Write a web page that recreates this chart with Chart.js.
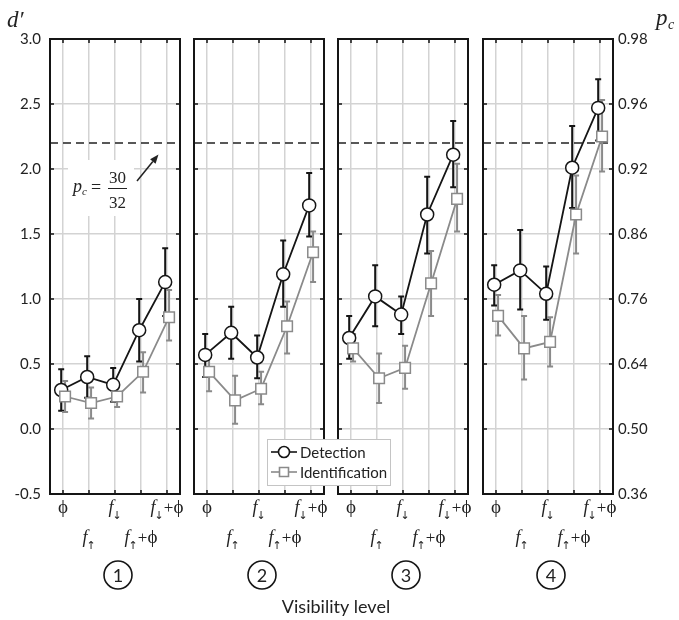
<!DOCTYPE html>
<html>
<head>
<meta charset="utf-8">
<script src="https://cdn.jsdelivr.net/npm/chart.js@4.4.1/dist/chart.umd.min.js"></script>
<style>
  body { margin: 0; background: #fff; }
  #wrap { position: relative; width: 679px; height: 620px; }
  #wrap canvas { position: absolute; left: 0; top: 0; }
</style>
</head>
<body>
<div id="wrap">
  <canvas id="p0" width="679" height="620"></canvas>
  <canvas id="p1" width="679" height="620"></canvas>
  <canvas id="p2" width="679" height="620"></canvas>
  <canvas id="p3" width="679" height="620"></canvas>
</div>
<script>
// ── data ───────────────────────────────────────────────
const positions   = [1, 2, 3, 4, 5];
const xLabels     = ['ϕ', 'f↑', 'f↓', 'f↑+ϕ', 'f↓+ϕ'];
const panelLabels = ['1', '2', '3', '4'];
const dTicks      = [-0.5, 0.0, 0.5, 1.0, 1.5, 2.0, 2.5, 3.0];
const pcTicks     = ['0.36', '0.50', '0.64', '0.76', '0.86', '0.92', '0.96', '0.98'];
const criterion   = 2.2;   // d' for pc = 30/32

// Detection d' (one row per panel)
const detMean = [
  [0.30, 0.40, 0.34, 0.76, 1.13],
  [0.57, 0.74, 0.55, 1.19, 1.72],
  [0.70, 1.02, 0.88, 1.65, 2.11],
  [1.11, 1.22, 1.04, 2.01, 2.47]
];
const detHigh = [
  [0.46, 0.56, 0.47, 1.00, 1.39],
  [0.73, 0.94, 0.72, 1.45, 1.97],
  [0.87, 1.26, 1.02, 1.94, 2.37],
  [1.26, 1.53, 1.25, 2.33, 2.69]
];
const detLow = [
  [0.14, 0.24, 0.21, 0.52, 0.87],
  [0.40, 0.54, 0.39, 0.94, 1.48],
  [0.54, 0.79, 0.73, 1.35, 1.86],
  [0.95, 0.92, 0.84, 1.70, 2.22]
];

// Identification d'
const idMean = [
  [0.25, 0.20, 0.25, 0.44, 0.86],
  [0.44, 0.22, 0.31, 0.79, 1.36],
  [0.62, 0.39, 0.47, 1.12, 1.77],
  [0.87, 0.62, 0.67, 1.65, 2.25]
];
const idHigh = [
  [0.37, 0.32, 0.33, 0.59, 1.07],
  [0.57, 0.41, 0.44, 0.98, 1.52],
  [0.73, 0.58, 0.64, 1.37, 2.04],
  [1.03, 0.87, 0.86, 1.95, 2.53]
];
const idLow = [
  [0.13, 0.08, 0.17, 0.28, 0.68],
  [0.29, 0.04, 0.19, 0.58, 1.13],
  [0.52, 0.20, 0.31, 0.87, 1.52],
  [0.72, 0.38, 0.48, 1.35, 1.98]
];

// ── layout / style ─────────────────────────────────────
const W = 679, H = 620;
const PANEL_LEFT = [50, 194, 338, 483];
const PANEL_W = 130;
const TOP = 39, BOTTOM = 494;
const DET_DX = -0.07, ID_DX = 0.08;

const BLACK = '#151515';
const GRAY  = '#8a8a8a';
const GRID  = '#d3d3d3';
const SANS  = 'Lato, "Open Sans", sans-serif';
const SERIF = '"Liberation Serif", "DejaVu Serif", serif';

function drawVisLabel(ctx, label, cx, baseY) {
  const parts = [];
  for (const ch of label) {
    if (ch === 'f')                    parts.push({ t: ch, font: 'italic 18px ' + SERIF, dy: 0, dx: 0 });
    else if (ch === '↑' || ch === '↓') parts.push({ t: ch, font: '11px "DejaVu Sans"', dy: 6, dx: -1 });
    else if (ch === 'ϕ')               parts.push({ t: ch, font: '19px ' + SERIF, dy: 0, dx: 0 });
    else                               parts.push({ t: ch, font: '17px ' + SERIF, dy: 0, dx: 0 });
  }
  let total = 0;
  parts.forEach(p => { ctx.font = p.font; p.w = ctx.measureText(p.t).width; total += p.w + p.dx; });
  let x = cx - total / 2;
  ctx.textAlign = 'left';
  ctx.textBaseline = 'alphabetic';
  parts.forEach(p => {
    ctx.font = p.font;
    x += p.dx;
    ctx.fillText(p.t, x, baseY + p.dy);
    x += p.w;
  });
}

function drawArrow(ctx, x1, y1, x2, y2) {
  const ang = Math.atan2(y2 - y1, x2 - x1);
  const hl = 9, hw = 3.5;
  ctx.beginPath();
  ctx.moveTo(x1, y1);
  ctx.lineTo(x2 - hl * Math.cos(ang), y2 - hl * Math.sin(ang));
  ctx.stroke();
  ctx.beginPath();
  ctx.moveTo(x2, y2);
  ctx.lineTo(x2 - hl * Math.cos(ang) + hw * Math.sin(ang), y2 - hl * Math.sin(ang) - hw * Math.cos(ang));
  ctx.lineTo(x2 - hl * Math.cos(ang) - hw * Math.sin(ang), y2 - hl * Math.sin(ang) + hw * Math.cos(ang));
  ctx.closePath();
  ctx.fill();
}

function drawAnnotation(ctx) {
  // white box behind pc = 30/32
  ctx.fillStyle = '#fff';
  ctx.fillRect(68, 160, 66, 56);
  ctx.fillStyle = '#222';
  ctx.textBaseline = 'alphabetic';
  ctx.textAlign = 'left';
  ctx.font = 'italic 18px ' + SERIF;
  ctx.fillText('p', 73, 192);
  ctx.font = 'italic 11px ' + SERIF;
  ctx.fillText('c', 82, 195);
  ctx.font = '18px ' + SERIF;
  ctx.fillText('=', 91, 193);
  ctx.textAlign = 'center';
  ctx.font = '17px ' + SERIF;
  ctx.fillText('30', 117.5, 183);
  ctx.fillText('32', 117.5, 208);
  ctx.strokeStyle = '#222';
  ctx.lineWidth = 1;
  ctx.beginPath(); ctx.moveTo(108, 188.5); ctx.lineTo(127, 188.5); ctx.stroke();
  ctx.lineWidth = 1.5;
  drawArrow(ctx, 137, 181, 158.5, 154.5);
}

function drawLegend(ctx) {
  const x0 = 267, y0 = 439, w = 123, h = 46;
  ctx.fillStyle = '#fff';
  ctx.fillRect(x0, y0, w, h);
  ctx.strokeStyle = '#c4c4c4';
  ctx.lineWidth = 1;
  ctx.strokeRect(x0 + 0.5, y0 + 0.5, w, h);
  const rows = [
    { label: 'Detection', color: BLACK, y: 452, shape: 'circle' },
    { label: 'Identification', color: GRAY, y: 472, shape: 'rect' }
  ];
  rows.forEach(r => {
    ctx.strokeStyle = r.color;
    ctx.lineWidth = 1.6;
    ctx.beginPath(); ctx.moveTo(271, r.y); ctx.lineTo(297, r.y); ctx.stroke();
    ctx.fillStyle = '#fff';
    ctx.beginPath();
    if (r.shape === 'circle') ctx.arc(284, r.y, 5.5, 0, Math.PI * 2);
    else ctx.rect(279.5, r.y - 4.5, 9, 9);
    ctx.fill(); ctx.stroke();
    ctx.fillStyle = '#222';
    ctx.font = '15px ' + SANS;
    ctx.textAlign = 'left';
    ctx.textBaseline = 'middle';
    ctx.fillText(r.label, 300, r.y + 1);
  });
}

function drawPageText(ctx) {
  ctx.fillStyle = '#222';
  ctx.textBaseline = 'alphabetic';
  ctx.textAlign = 'left';
  ctx.font = 'italic 23px ' + SERIF;
  ctx.fillText('d′', 7, 27);
  ctx.fillText('p', 656, 25);
  ctx.font = 'italic 14px ' + SERIF;
  ctx.fillText('c', 668, 29);
  ctx.textAlign = 'center';
  ctx.font = '18px ' + SANS;
  ctx.fillText('Visibility level', 336, 613);
}

const panelDecor = {
  id: 'panelDecor',
  beforeDatasetsDraw(chart, args, opts) {
    const { ctx, chartArea: a, scales: { y } } = chart;
    ctx.save();
    if (opts.index === 0) drawAnnotation(ctx);
    // criterion line
    const yc = y.getPixelForValue(criterion);
    ctx.strokeStyle = '#222';
    ctx.lineWidth = 1.5;
    ctx.setLineDash([8, 5]);
    ctx.beginPath(); ctx.moveTo(a.left, yc); ctx.lineTo(a.right - 3, yc); ctx.stroke();
    ctx.setLineDash([]);
    // error bars
    for (let i = chart.data.datasets.length - 1; i >= 0; i--) {
      const ds = chart.data.datasets[i];
      const meta = chart.getDatasetMeta(i);
      ctx.strokeStyle = ds.borderColor;
      ctx.lineWidth = 2;
      meta.data.forEach((pt, j) => {
        const yl = y.getPixelForValue(ds.errLo[j]);
        const yh = y.getPixelForValue(ds.errHi[j]);
        ctx.beginPath();
        ctx.moveTo(pt.x, yl); ctx.lineTo(pt.x, yh);
        ctx.moveTo(pt.x - 3, yl); ctx.lineTo(pt.x + 3, yl);
        ctx.moveTo(pt.x - 3, yh); ctx.lineTo(pt.x + 3, yh);
        ctx.stroke();
      });
    }
    ctx.restore();
  },
  afterDraw(chart, args, opts) {
    const { ctx, chartArea: a, scales: { x, y } } = chart;
    ctx.save();
    // inward ticks
    ctx.strokeStyle = BLACK;
    ctx.lineWidth = 1.5;
    ctx.beginPath();
    dTicks.forEach(v => {
      const py = y.getPixelForValue(v);
      ctx.moveTo(a.left, py); ctx.lineTo(a.left + 4, py);
      ctx.moveTo(a.right, py); ctx.lineTo(a.right - 4, py);
    });
    positions.forEach(v => {
      const px = x.getPixelForValue(v);
      ctx.moveTo(px, a.bottom); ctx.lineTo(px, a.bottom - 4);
      ctx.moveTo(px, a.top); ctx.lineTo(px, a.top + 4);
    });
    ctx.stroke();
    // frame
    ctx.lineWidth = 2;
    ctx.strokeRect(a.left, a.top, a.right - a.left, a.bottom - a.top);
    // visibility level labels, staggered in two rows
    ctx.fillStyle = '#222';
    positions.forEach((v, i) => {
      drawVisLabel(ctx, xLabels[i], x.getPixelForValue(v), i % 2 === 0 ? 513 : 543);
    });
    // circled panel number
    const cx = (a.left + a.right) / 2 + 3;
    ctx.lineWidth = 1.6;
    ctx.beginPath(); ctx.arc(cx, 575, 14, 0, Math.PI * 2); ctx.stroke();
    ctx.font = '18px ' + SANS;
    ctx.textAlign = 'center';
    ctx.textBaseline = 'middle';
    ctx.fillText(panelLabels[opts.index], cx, 576);
    if (opts.index === 3) {
      drawLegend(ctx);
      drawPageText(ctx);
    }
    ctx.restore();
  }
};

function makePanel(k) {
  const left = PANEL_LEFT[k], right = left + PANEL_W;
  const yAxisW = k === 0 ? 50 : 0;
  const y2W = k === 3 ? 60 : 0;

  const scales = {
    x: {
      type: 'linear', min: 0.5, max: 5.5,
      afterBuildTicks: s => { s.ticks = positions.map(v => ({ value: v })); },
      afterFit: s => { s.height = 0; },
      ticks: { display: false },
      grid: { color: GRID, lineWidth: 1.5, drawTicks: false },
      border: { display: false }
    },
    y: {
      type: 'linear', position: 'left', min: -0.5, max: 3.0,
      afterBuildTicks: s => { s.ticks = dTicks.map(v => ({ value: v })); },
      afterFit: s => { s.width = yAxisW; },
      ticks: {
        display: k === 0, padding: 9, color: '#222',
        font: { family: SANS, size: 15 },
        callback: v => v.toFixed(1)
      },
      grid: { color: GRID, lineWidth: 1.5, drawTicks: false },
      border: { display: false }
    }
  };
  if (k === 3) {
    scales.y2 = {
      type: 'linear', position: 'right', min: -0.5, max: 3.0,
      afterBuildTicks: s => { s.ticks = dTicks.map(v => ({ value: v })); },
      afterFit: s => { s.width = y2W; },
      ticks: {
        padding: 5, color: '#222',
        font: { family: SANS, size: 15 },
        callback: (v, i) => pcTicks[i]
      },
      grid: { display: false, drawTicks: false },
      border: { display: false }
    };
  }

  return new Chart(document.getElementById('p' + k), {
    type: 'line',
    data: {
      datasets: [
        {
          label: 'Identification',
          data: idMean[k].map((v, i) => ({ x: positions[i] + ID_DX, y: v })),
          errLo: idLow[k], errHi: idHigh[k],
          borderColor: GRAY, borderWidth: 1.8, tension: 0,
          pointStyle: 'rect', pointRadius: 7.5,
          pointBackgroundColor: '#fff', pointBorderColor: GRAY, pointBorderWidth: 1.5
        },
        {
          label: 'Detection',
          data: detMean[k].map((v, i) => ({ x: positions[i] + DET_DX, y: v })),
          errLo: detLow[k], errHi: detHigh[k],
          borderColor: BLACK, borderWidth: 1.8, tension: 0,
          pointStyle: 'circle', pointRadius: 6.5,
          pointBackgroundColor: '#fff', pointBorderColor: BLACK, pointBorderWidth: 1.5
        }
      ]
    },
    options: {
      responsive: false,
      animation: false,
      events: [],
      layout: {
        padding: {
          left: left - yAxisW,
          right: W - right - y2W,
          top: TOP,
          bottom: H - BOTTOM
        }
      },
      plugins: {
        legend: { display: false },
        tooltip: { enabled: false },
        panelDecor: { index: k }
      },
      scales
    },
    plugins: [panelDecor]
  });
}

[0, 1, 2, 3].forEach(makePanel);
</script>
</body>
</html>
